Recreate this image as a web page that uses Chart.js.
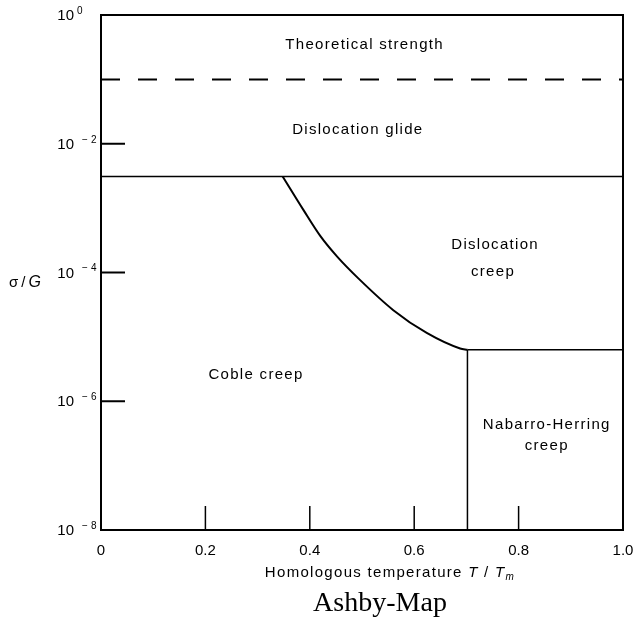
<!DOCTYPE html>
<html>
<head>
<meta charset="utf-8">
<script src="https://cdn.jsdelivr.net/npm/chart.js@4.4.1/dist/chart.umd.min.js"></script>
<style>
  body { margin: 0; background: #fff; }
  #wrap { width: 636px; height: 626px; }
</style>
</head>
<body>
<div id="wrap"><canvas id="ashby"></canvas></div>
<script>
// axis ticks
const tTicks = [0, 0.2, 0.4, 0.6, 0.8, 1.0];
const stressTicks = [1, 1e-2, 1e-4, 1e-6, 1e-8];
const stressExp = [0, -2, -4, -6, -8];
const innerTicksT = [0.2, 0.4, 0.6, 0.8];
const innerTicksS = [1e-2, 1e-4, 1e-6];

// field boundaries (T/Tm , sigma/G)
const dashedT = [0, 1];
const dashedS = [1e-1, 1e-1];
const glideT = [0, 1];
const glideS = [3.1e-3, 3.1e-3];
const curveT = [0.348, 0.388, 0.420, 0.452, 0.493, 0.560, 0.624, 0.688, 0.702];
const curveS = [3.1e-3, 9.3e-4, 3.7e-4, 1.78e-4, 8.1e-5, 2.6e-5, 1.15e-5, 6.6e-6, 6.3e-6];
const nhTopT = [0.702, 1];
const nhTopS = [6.3e-6, 6.3e-6];
const nhSideT = [0.702, 0.702];
const nhSideS = [6.3e-6, 1e-8];

// field names
const regionText = ['Theoretical strength', 'Dislocation glide', 'Dislocation', 'creep', 'Coble creep', 'Nabarro-Herring', 'creep'];
const regionT = [0.505, 0.492, 0.755, 0.751, 0.297, 0.854, 0.854];
const regionS = [0.342, 0.0164, 2.68e-4, 1.03e-4, 2.57e-6, 4.3e-7, 2.0e-7];

const FONT = '"Liberation Sans", Arial, sans-serif';

function pts(xs, ys) {
  return xs.map(function (x, i) { return { x: x, y: ys[i] }; });
}

function line(ctx, x1, y1, x2, y2) {
  ctx.beginPath();
  ctx.moveTo(x1, y1);
  ctx.lineTo(x2, y2);
  ctx.stroke();
}

// draws pieces of text one after the other, returns total width
function pieces(ctx, list, x, y, draw) {
  let w = 0;
  list.forEach(function (p) {
    ctx.font = p.f;
    if (draw) ctx.fillText(p.t, x + w, y + (p.dy || 0));
    w += ctx.measureText(p.t).width;
  });
  return w;
}

const mapDecor = {
  id: 'mapDecor',
  afterDraw: function (chart) {
    const ctx = chart.ctx;
    const a = chart.chartArea;
    const xs = chart.scales.x;
    const ys = chart.scales.y;
    ctx.save();
    ctx.strokeStyle = '#000';
    ctx.fillStyle = '#000';

    // frame
    ctx.lineWidth = 2;
    ctx.strokeRect(a.left, a.top, a.right - a.left, a.bottom - a.top);

    // inward ticks
    innerTicksS.forEach(function (s) {
      const y = ys.getPixelForValue(s);
      line(ctx, a.left, y, a.left + 24, y);
    });
    ctx.lineWidth = 1.5;
    innerTicksT.forEach(function (t) {
      const x = xs.getPixelForValue(t);
      line(ctx, x, a.bottom, x, a.bottom - 24);
    });

    // y tick labels 10^n
    ctx.textBaseline = 'middle';
    stressTicks.forEach(function (s, i) {
      const y = ys.getPixelForValue(s);
      ctx.font = '15px ' + FONT;
      ctx.textAlign = 'right';
      ctx.fillText('10', a.left - 27, y + 1);
      ctx.font = '10px ' + FONT;
      ctx.textAlign = 'left';
      const e = stressExp[i];
      if (e === 0) {
        ctx.fillText('0', a.left - 24, y - 4);
      } else {
        ctx.fillText('\u2212', a.left - 19, y - 4);
        ctx.fillText(String(-e), a.left - 10, y - 4);
      }
    });

    // region names
    ctx.letterSpacing = '1.3px';
    ctx.font = '15px ' + FONT;
    ctx.textAlign = 'center';
    regionText.forEach(function (txt, i) {
      ctx.fillText(txt, xs.getPixelForValue(regionT[i]), ys.getPixelForValue(regionS[i]));
    });

    // x axis title
    ctx.textAlign = 'left';
    const xt = [
      { t: 'Homologous temperature ', f: '15px ' + FONT },
      { t: 'T', f: 'italic 15px ' + FONT },
      { t: ' / ', f: '15px ' + FONT },
      { t: 'T', f: 'italic 15px ' + FONT },
      { t: 'm', f: 'italic 10px ' + FONT, dy: 4 }
    ];
    const wx = pieces(ctx, xt, 0, 0, false);
    pieces(ctx, xt, a.left + 289 - wx / 2, a.bottom + 43, true);

    // y axis title
    ctx.letterSpacing = '3px';
    pieces(ctx, [
      { t: '\u03c3', f: '15px ' + FONT },
      { t: '/', f: '15px ' + FONT },
      { t: 'G', f: 'italic 16px ' + FONT }
    ], 9, 283, true);

    // caption
    ctx.letterSpacing = '0px';
    ctx.textAlign = 'center';
    ctx.font = '28px "Liberation Serif", "Times New Roman", serif';
    ctx.fillText('Ashby-Map', a.left + 279, a.bottom + 74);
    ctx.restore();
  }
};

function boundary(data, width, dash, extra) {
  const ds = {
    data: data,
    showLine: true,
    borderColor: '#000',
    borderWidth: width,
    borderDash: dash || [],
    pointRadius: 0,
    fill: false
  };
  return Object.assign(ds, extra || {});
}

new Chart(document.getElementById('ashby'), {
  type: 'scatter',
  data: {
    datasets: [
      boundary(pts(dashedT, dashedS), 2, [19, 18]),
      boundary(pts(glideT, glideS), 1.5),
      boundary(pts(curveT, curveS), 2, [], { cubicInterpolationMode: 'monotone' }),
      boundary(pts(nhTopT, nhTopS), 1.5),
      boundary(pts(nhSideT, nhSideS), 1.5)
    ]
  },
  options: {
    responsive: true,
    maintainAspectRatio: false,
    animation: false,
    layout: { padding: { top: 15, right: 13, left: 0, bottom: 0 } },
    plugins: { legend: { display: false }, tooltip: { enabled: false } },
    scales: {
      x: {
        type: 'linear',
        min: 0,
        max: 1,
        // tick marks are drawn inward by the plugin; tickLength only spaces the labels
        grid: { display: false, drawTicks: true, tickLength: 12 },
        border: { display: false },
        afterBuildTicks: function (s) { s.ticks = tTicks.map(function (v) { return { value: v }; }); },
        ticks: {
          color: '#000',
          padding: 0,
          maxRotation: 0,
          autoSkip: false,
          font: { family: FONT, size: 15 },
          callback: function (v) { return v === 0 ? '0' : v.toFixed(1); }
        },
        afterFit: function (s) { s.height = 96; }
      },
      y: {
        type: 'logarithmic',
        min: 1e-8,
        max: 1,
        grid: { display: false, drawTicks: false },
        border: { display: false },
        ticks: { display: false },
        afterFit: function (s) { s.width = 101; }
      }
    }
  },
  plugins: [mapDecor]
});
</script>
</body>
</html>
